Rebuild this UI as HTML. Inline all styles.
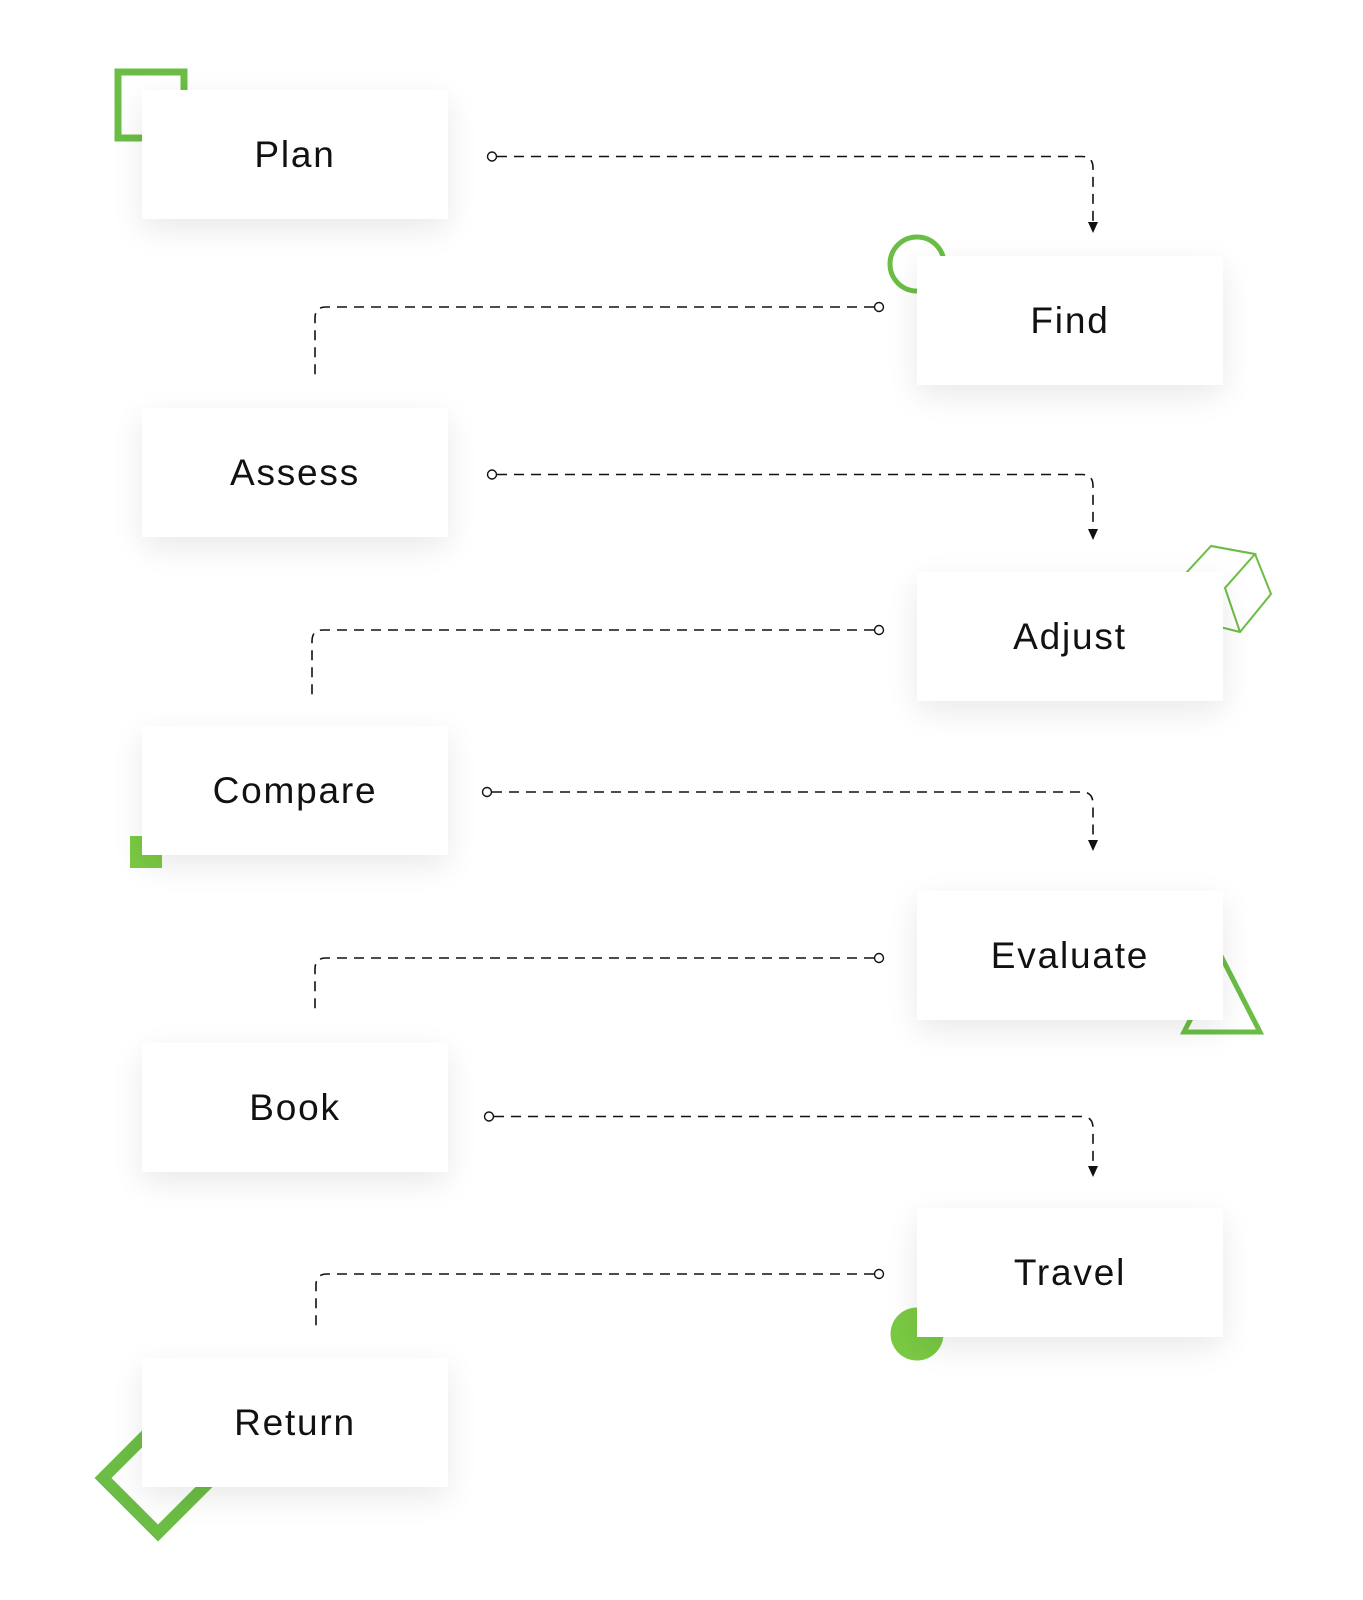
<!DOCTYPE html>
<html><head><meta charset="utf-8"><style>
html,body{margin:0;padding:0;background:#fff;}
body{width:1363px;height:1600px;position:relative;overflow:hidden;font-family:"Liberation Sans",sans-serif;}
.box{position:absolute;width:306px;height:129px;background:#fff;box-shadow:0 10px 30px rgba(0,0,0,0.09);display:flex;align-items:center;justify-content:center;font-size:37px;color:#111;letter-spacing:1.8px;z-index:2;}
svg{position:absolute;left:0;top:0;}
</style></head><body>
<svg width="1363" height="1600" style="z-index:1">
<g fill="none" stroke="#6bbd45">
<rect x="118" y="72" width="66" height="66" stroke-width="7"/>
<circle cx="917" cy="264" r="27" stroke-width="5"/>
<polygon points="1211,546 1255,554 1271,594 1240,632 1200,622 1187,572" stroke-width="2"/>
<polyline points="1211,546 1255,554 1225,588 1240,632" stroke-width="2"/>
<polygon points="1222,958 1260,1032 1184,1032" stroke-width="5"/>
<polygon points="158,1423 213,1478 158,1533 103,1478" stroke-width="12"/>
</g>
<rect x="130" y="836" width="32" height="32" fill="#7ac943"/>
<circle cx="917" cy="1334" r="26.5" fill="#7ac943"/>
</svg>
<svg width="1363" height="1600" style="z-index:3" fill="none" stroke="#111" stroke-width="1.6">
<g stroke-dasharray="10,7">
<path d="M497,156.5 H1082 Q1093,156.5 1093,168 V224"/>
<path d="M874,307 H326 Q315,307 315,318 V378"/>
<path d="M497,474.5 H1082 Q1093,474.5 1093,486 V531"/>
<path d="M874,630 H323 Q312,630 312,641 V698"/>
<path d="M492,792 H1082 Q1093,792 1093,804 V842"/>
<path d="M874,958 H326 Q315,958 315,969 V1014"/>
<path d="M494,1116.5 H1082 Q1093,1116.5 1093,1128 V1168"/>
<path d="M874,1274 H327 Q316,1274 316,1285 V1328"/>
</g>
<g fill="#111" stroke="none">
<path d="M1088,222 L1098,222 L1093,233 Z"/>
<path d="M1088,529 L1098,529 L1093,540 Z"/>
<path d="M1088,840 L1098,840 L1093,851 Z"/>
<path d="M1088,1166 L1098,1166 L1093,1177 Z"/>
</g>
<g fill="#fff" stroke-width="1.4">
<circle cx="492" cy="156.5" r="4.5"/>
<circle cx="879" cy="307" r="4.5"/>
<circle cx="492" cy="474.5" r="4.5"/>
<circle cx="879" cy="630" r="4.5"/>
<circle cx="487" cy="792" r="4.5"/>
<circle cx="879" cy="958" r="4.5"/>
<circle cx="489" cy="1116.5" r="4.5"/>
<circle cx="879" cy="1274" r="4.5"/>
</g>
</svg>
<div class="box" style="left:142px;top:90px">Plan</div>
<div class="box" style="left:917px;top:256px">Find</div>
<div class="box" style="left:142px;top:408px">Assess</div>
<div class="box" style="left:917px;top:572px">Adjust</div>
<div class="box" style="left:142px;top:726px">Compare</div>
<div class="box" style="left:917px;top:891px">Evaluate</div>
<div class="box" style="left:142px;top:1043px">Book</div>
<div class="box" style="left:917px;top:1208px">Travel</div>
<div class="box" style="left:142px;top:1358px">Return</div>
</body></html>
